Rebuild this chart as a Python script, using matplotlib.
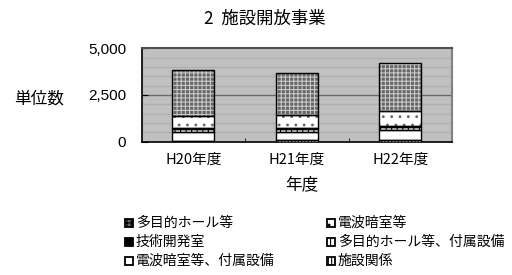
import matplotlib
matplotlib.use("Agg")
import matplotlib.pyplot as plt
import numpy as np
from matplotlib.patches import Rectangle

plt.rcParams['font.family'] = ['Noto Sans CJK JP', 'DejaVu Sans']
plt.rcParams['hatch.linewidth'] = 0.8

categories = ["H20年度", "H21年度", "H22年度"]
# stacked from bottom
shisetsu = [20, 60, 60]              # 施設関係
denpa_fuzoku = [500, 450, 560]        # 電波暗室等、付属設備
tamokuteki_fuzoku = [150, 150, 150]   # 多目的ホール等、付属設備
gijutsu = [50, 50, 50]                # 技術開発室
denpa = [630, 690, 815]               # 電波暗室等
tamokuteki = [2510, 2280, 2590]       # 多目的ホール等

yticks = [0, 2500, 5000]
yticklabels = ["0", "2,500", "5,000"]

series = [
    ("施設関係", shisetsu, dict(facecolor="white", hatch="|||||", edgecolor="black")),
    ("電波暗室等、付属設備", denpa_fuzoku, dict(facecolor="white", hatch=None, edgecolor="black")),
    ("多目的ホール等、付属設備", tamokuteki_fuzoku, dict(facecolor="white", hatch="|||", edgecolor="black")),
    ("技術開発室", gijutsu, dict(facecolor="black", hatch=None, edgecolor="black")),
    ("電波暗室等", denpa, dict(facecolor="white", hatch="..", edgecolor="#666666")),
    ("多目的ホール等", tamokuteki, dict(facecolor="#666666", hatch="++++", edgecolor="#c8c8c8")),
]
styles = {n: st for n, _, st in series}

fig = plt.figure(figsize=(5.12, 2.75), dpi=100)
ax = fig.add_axes([141.5/512, 1-141.5/275, 310.5/512, 93/275])
ax.set_facecolor("#c0c0c0")

x = np.arange(len(categories))
bottom = np.zeros(len(categories))
for name, vals, st in series:
    ax.bar(x, vals, width=0.41, bottom=bottom, facecolor=st["facecolor"],
           hatch=st["hatch"], edgecolor=st["edgecolor"], linewidth=0.0, zorder=3)
    ax.bar(x, vals, width=0.41, bottom=bottom, facecolor="none", edgecolor="black",
           linewidth=1.0, zorder=4)
    bottom += np.array(vals)

ax.set_xlim(-0.5, 2.5)
ax.set_ylim(0, 5000)
ax.set_yticks(yticks)
ax.set_yticklabels(yticklabels, fontsize=11, family=['Liberation Sans', 'DejaVu Sans'])
ax.set_xticks(x)
ax.set_xticklabels(categories, fontsize=10.5)
ax.set_xticks([0.5, 1.5], minor=True)
ax.tick_params(axis='x', which='major', length=0, pad=8)
ax.tick_params(axis='x', which='minor', length=3, direction='in')
ax.tick_params(axis='y', length=4, direction='in', pad=11)

for v in range(500, 5000, 500):
    ax.axhline(v, color="#6a6a6a" if v == 2500 else "#b0b0b0", linewidth=1.0, zorder=1)

for s in ["left", "bottom"]:
    ax.spines[s].set_color("black")
    ax.spines[s].set_linewidth(1.2)
ax.spines["top"].set_color("#505050")
ax.spines["top"].set_linewidth(1.5)
ax.spines["right"].set_color("#808080")
ax.spines["right"].set_linewidth(1.5)

fig.text(265/512, 1-19/275, "2  施設開放事業", ha="center", va="center", fontsize=12.5)
fig.text(39/512, 1-99/275, "単位数", ha="center", va="center", fontsize=12)
fig.text(302/512, 1-185/275, "年度", ha="center", va="center", fontsize=12)

# legend (two columns, three rows)
legend_rows = [
    ("多目的ホール等", "電波暗室等"),
    ("技術開発室", "多目的ホール等、付属設備"),
    ("電波暗室等、付属設備", "施設関係"),
]
row_y = [223, 242, 261]
col_x = [125, 327]
W, H = 512, 275
for r, names in enumerate(legend_rows):
    for c, name in enumerate(names):
        st = styles[name]
        x0 = col_x[c]
        y0 = row_y[r]
        rect = Rectangle((x0/W, 1-(y0+4)/H), 8/W, 8/H, transform=fig.transFigure,
                         facecolor=st["facecolor"], hatch=st["hatch"],
                         edgecolor="black", linewidth=1.3)
        fig.add_artist(rect)
        fig.text((x0+11)/W, 1-y0/H, name, ha="left", va="center", fontsize=10)

fig.savefig("out.png", dpi=100)
